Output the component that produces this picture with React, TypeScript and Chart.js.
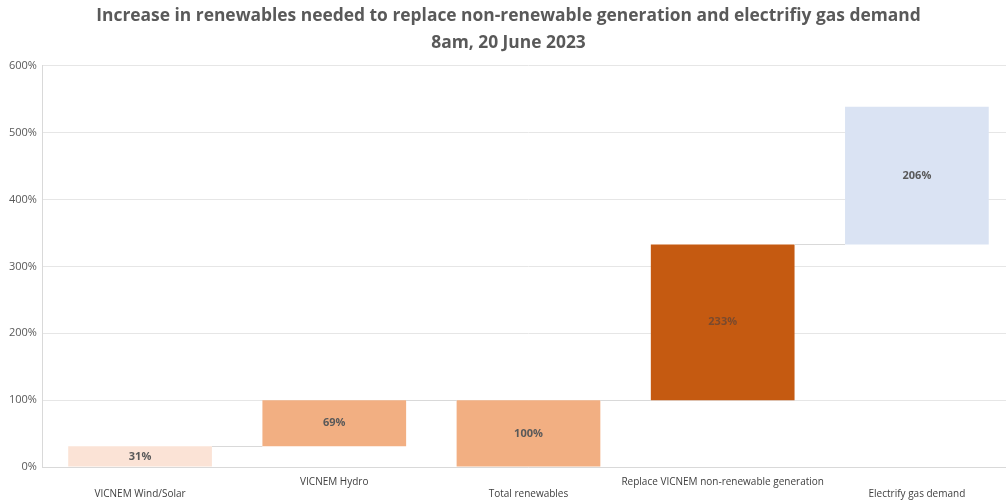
import React, { useEffect, useRef } from "react";
import { Chart, registerables } from "chart.js";

Chart.register(...registerables);

const categories = [
  "VICNEM Wind/Solar",
  "VICNEM Hydro",
  "Total renewables",
  "Replace VICNEM non-renewable generation",
  "Electrify gas demand",
];
const barStarts = [0, 31, 0, 100, 333];
const barValues = [31, 69, 100, 233, 206];
const barColors = ["#FBE3D6", "#F2AF82", "#F2AF82", "#C55A11", "#DAE3F3"];
const labelColors = ["#595959", "#595959", "#595959", "#7A4A2E", "#595959"];
const yTicks = [0, 100, 200, 300, 400, 500, 600];
const titleLines = [
  "Increase in renewables needed to replace non-renewable generation and electrifiy gas demand",
  "8am, 20 June 2023",
];

const FONT = "'Open Sans', sans-serif";

const waterfallPlugin = {
  id: "waterfallExtras",
  afterDatasetsDraw(chart: any) {
    const ctx = chart.ctx;
    const meta = chart.getDatasetMeta(0);
    const y = chart.scales.y;
    ctx.save();
    ctx.strokeStyle = "#D9D9D9";
    ctx.lineWidth = 1;
    for (let i = 0; i < meta.data.length - 1; i++) {
      const a = meta.data[i];
      const b = meta.data[i + 1];
      const end = barStarts[i] + barValues[i];
      const yy = Math.round(y.getPixelForValue(end)) + 0.5;
      ctx.beginPath();
      ctx.moveTo(a.x + a.width / 2, yy);
      ctx.lineTo(b.x - b.width / 2, yy);
      ctx.stroke();
    }
    ctx.font = `bold 11px ${FONT}`;
    ctx.textAlign = "center";
    ctx.textBaseline = "middle";
    meta.data.forEach((el: any, i: number) => {
      const mid = y.getPixelForValue(barStarts[i] + barValues[i] / 2);
      ctx.fillStyle = labelColors[i];
      ctx.fillText(barValues[i] + "%", el.x, mid);
    });
    ctx.restore();
  },
};

export default function App() {
  const ref = useRef<HTMLCanvasElement>(null);
  useEffect(() => {
    if (!ref.current) return;
    const chart = new Chart(ref.current, {
      type: "bar",
      data: {
        labels: categories,
        datasets: [
          {
            data: barStarts.map((s, i) => [s, s + barValues[i]]) as any,
            backgroundColor: barColors,
            borderWidth: 0,
            categoryPercentage: 0.74,
            barPercentage: 1,
          },
        ],
      },
      options: {
        animation: false,
        responsive: true,
        maintainAspectRatio: false,
        layout: { padding: { left: 3, right: 0, top: 3, bottom: -5 } },
        plugins: {
          legend: { display: false },
          tooltip: { enabled: false },
          title: {
            display: true,
            text: titleLines,
            color: "#595959",
            font: { family: FONT, size: 17.4, weight: "bold", lineHeight: 1.55 },
            padding: { top: 0, bottom: 9 },
          },
        },
        scales: {
          x: {
            grid: { display: false, drawTicks: false },
            border: { color: "#D9D9D9" },
            ticks: {
              color: "#404040",
              font: { family: FONT, size: 10, lineHeight: 1.2 },
              maxRotation: 0,
              autoSkip: false,
              padding: 9,
              callback: (_v: any, i: number) =>
                i % 2 === 0 ? ["", categories[i]] : [categories[i]],
            },
          },
          y: {
            min: 0,
            max: 600,
            afterBuildTicks: (axis: any) => {
              axis.ticks = yTicks.map((v) => ({ value: v }));
            },
            grid: { color: "#E6E6E6", drawTicks: false },
            border: { color: "#D9D9D9" },
            ticks: {
              color: "#595959",
              font: { family: FONT, size: 11 },
              padding: 6,
              callback: (v: any) => v + "%",
            },
          },
        },
      },
      plugins: [waterfallPlugin],
    });
    return () => chart.destroy();
  }, []);
  return (
    <div style={{ position: "fixed", left: 0, top: 0, width: 1006, height: 504, background: "#fff", overflow: "hidden" }}>
      <div style={{ position: "relative", width: 1014, height: 504 }}>
        <canvas ref={ref} />
      </div>
    </div>
  );
}
